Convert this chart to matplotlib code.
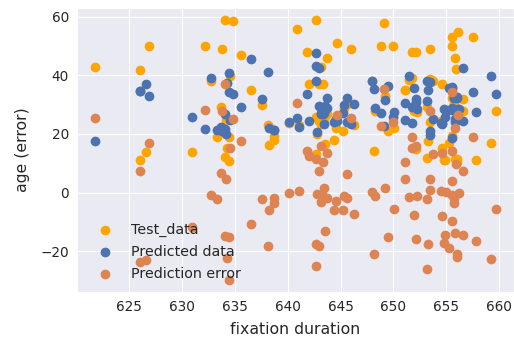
import matplotlib
matplotlib.use("Agg")
import matplotlib.pyplot as plt
import seaborn as sns

# fixation duration of each sample
fixation = [
    621.8, 626.0, 626.0, 626.6, 626.9, 631.0, 632.2, 632.8, 633.3, 633.8,
    633.7, 634.2, 634.1, 634.8, 635.6, 634.6, 634.5, 634.3, 634.1, 634.5,
    636.5, 637.6, 638.2, 638.7, 638.1, 638.7, 640.1, 640.9, 641.1, 641.8,
    642.0, 642.7, 643.3, 643.2, 643.7, 643.0, 642.7, 642.7, 643.0, 643.5,
    644.4, 644.6, 642.8, 643.4, 643.4, 643.7, 643.2, 644.7, 646.0, 645.2,
    646.3, 645.6, 645.3, 645.6, 649.1, 648.8, 650.0, 648.2, 648.0, 648.3,
    649.2, 649.5, 650.1, 652.1, 653.5, 651.1, 651.8, 651.8, 651.1, 651.5,
    652.2, 651.9, 652.1, 653.3, 653.2, 653.2, 653.5, 653.5, 653.7, 659.7,
    659.2, 657.8, 657.5, 655.5, 656.1, 655.8, 654.6, 655.5, 655.9, 656.6,
    656.6, 655.5, 654.5, 655.0, 655.5, 655.7, 656.2, 655.7, 654.6, 655.5,
    654.9, 655.8, 654.8, 655.3, 656.0, 656.0,
]

# true age of the test samples
test_age = [
    42.9, 41.8, 11.0, 13.9, 49.8, 13.9, 49.8, 38.0, 19.0, 48.8,
    29.0, 24.7, 58.8, 58.6, 46.8, 39.8, 10.8, 15.1, 12.0, 18.8,
    34.9, 29.8, 16.2, 17.9, 23.0, 19.4, 23.8, 55.9, 23.0, 47.8,
    37.0, 58.8, 37.1, 42.9, 45.7, 36.9, 13.0, 25.8, 24.3, 16.6,
    17.9, 22.1, 20.0, 24.9, 25.4, 26.9, 23.3, 50.8, 48.8, 21.0,
    22.9, 30.3, 28.9, 30.1, 57.9, 49.9, 49.9, 14.2, 38.1, 27.8,
    33.0, 21.0, 21.9, 47.9, 48.8, 34.9, 39.0, 47.9, 35.0, 38.3,
    27.5, 27.9, 14.9, 17.4, 11.9, 29.1, 38.6, 24.1, 38.1, 27.8,
    17.0, 11.1, 52.9, 52.9, 54.7, 45.9, 37.0, 49.9, 42.2, 27.9,
    31.9, 32.1, 24.4, 28.2, 35.1, 30.1, 28.3, 28.7, 15.1, 19.3,
    11.1, 11.3, 11.1, 16.8, 11.3, 10.3,
]

# predicted age
pred_age = [
    17.6, 34.5, 34.6, 36.9, 33.0, 25.8, 21.7, 38.9, 21.3, 21.0,
    22.5, 20.1, 21.8, 33.7, 29.2, 24.7, 40.6, 37.5, 26.8, 34.1,
    45.6, 32.0, 22.1, 21.3, 41.2, 21.4, 24.1, 25.3, 22.4, 33.6,
    24.5, 47.5, 26.6, 27.0, 32.3, 29.6, 38.0, 43.2, 42.6, 29.6,
    23.9, 24.9, 20.5, 23.3, 27.0, 28.9, 26.6, 24.4, 23.3, 27.0,
    30.2, 24.1, 30.0, 32.1, 22.7, 27.2, 25.8, 35.2, 38.0, 28.9,
    31.4, 36.3, 27.5, 32.0, 20.9, 24.6, 23.8, 29.1, 30.4, 39.8,
    28.6, 35.5, 30.8, 35.0, 38.1, 31.3, 37.7, 19.6, 25.0, 33.5,
    39.8, 27.5, 34.1, 18.5, 28.4, 24.0, 23.6, 35.8, 32.5, 42.3,
    24.5, 28.1, 23.8, 27.9, 36.0, 32.1, 28.4, 32.4, 23.2, 28.9,
    25.6, 25.0, 28.4, 35.8, 32.4, 32.2,
]

# test age minus predicted age
pred_error = [
    25.3, 7.3, -23.6, -23.0, 16.8, -11.9, 28.1, -0.9, -2.3, 27.8,
    6.5, 4.6, 37.0, 24.9, 17.6, 15.1, -29.8, -22.4, -14.8, -15.3,
    -10.7, -2.2, -5.9, -3.4, -18.2, -2.0, -0.3, 30.6, 0.6, 14.2,
    12.5, 11.3, 10.5, 15.9, 13.4, 7.3, -25.0, -17.4, -18.3, -13.0,
    -6.0, -2.8, -0.5, 1.6, -1.6, -2.0, -3.3, 26.4, 25.5, -6.0,
    -7.3, 6.2, -1.1, -2.0, 35.2, 22.7, 24.1, -21.0, 0.1, -1.1,
    1.6, -15.3, -5.6, 15.9, 27.9, 10.3, 15.2, 18.8, 4.6, -1.5,
    -1.1, -7.6, -15.9, -17.6, -26.2, -2.2, 0.9, 4.5, 13.1, -5.7,
    -22.8, -16.4, 18.8, 34.4, 26.3, 21.9, 13.4, 14.1, 9.7, -14.4,
    7.4, 4.0, 0.6, 0.3, -0.9, -2.0, -0.1, -3.7, -8.1, -9.6,
    -14.5, -13.7, -17.3, -19.0, -21.1, -21.9,
]

sns.set_style("darkgrid")
plt.rcParams["font.family"] = ["DejaVu Sans"]

fig = plt.figure(figsize=(5.14, 3.41), dpi=100)
ax = fig.add_axes([0.150, 0.1446, 0.850, 0.8328])

ax.scatter(fixation, test_age, s=36, color="orange", label="Test_data")
ax.scatter(fixation, pred_age, s=36, color="#4c72b0", label="Predicted data")
ax.scatter(fixation, pred_error, s=36, color="#dd8452", label="Prediction error")

ax.set_xlim(620.1, 661.4)
ax.set_ylim(-33.8, 63.0)
ax.set_xticks([625, 630, 635, 640, 645, 650, 655, 660])
ax.set_yticks([-20, 0, 20, 40, 60])
ax.tick_params(labelsize=9.8, colors=".15", length=0, pad=6)

ax.set_xlabel("fixation duration", fontsize=11.3, color=".15", labelpad=5.5)
ax.set_ylabel("age (error)", fontsize=11.3, color=".15", labelpad=7)

ax.legend(loc="lower left", bbox_to_anchor=(-0.0114, -0.028), frameon=False,
          fontsize=10.3, borderaxespad=0.9, handletextpad=0.8, labelspacing=0.55)

fig.savefig("out.png", dpi=100)
